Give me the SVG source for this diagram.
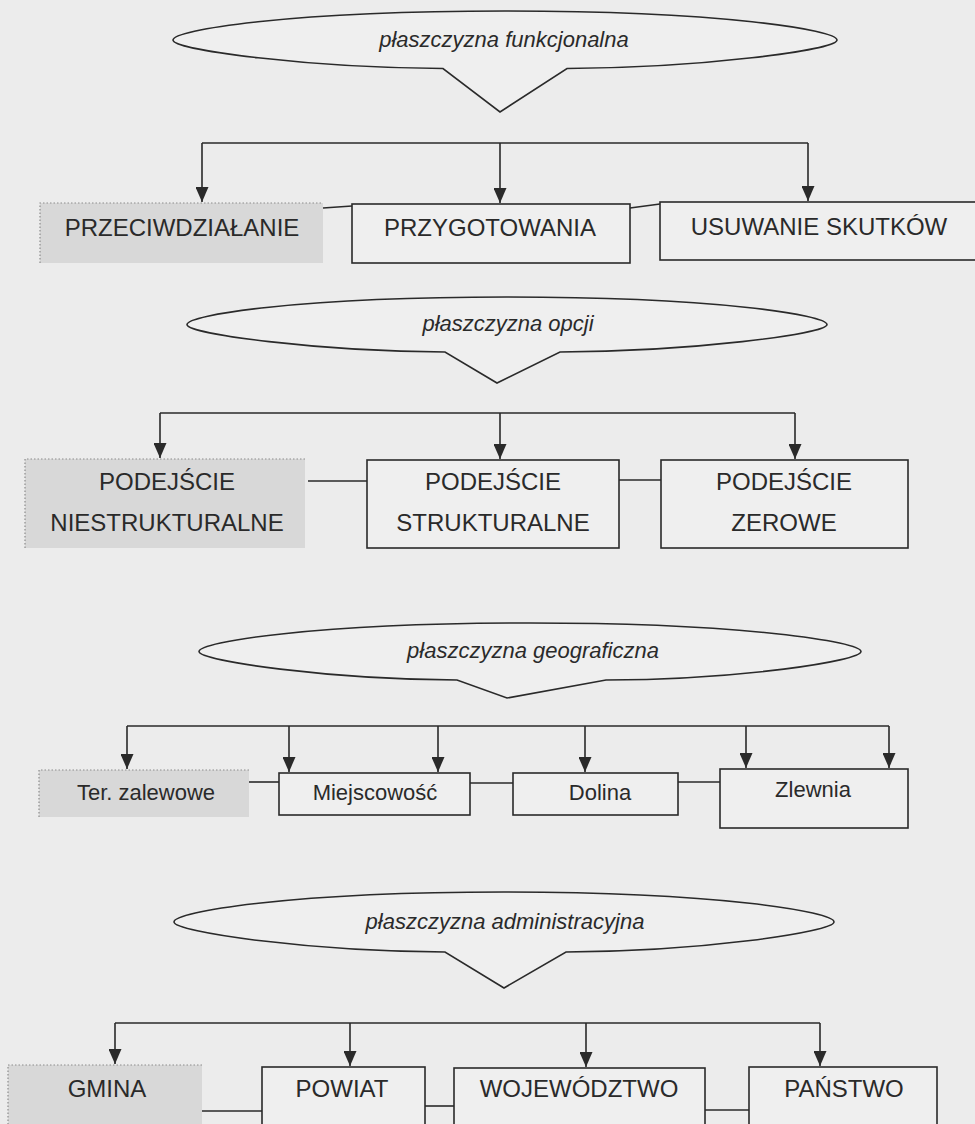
<svg xmlns="http://www.w3.org/2000/svg" width="975" height="1124" viewBox="0 0 975 1124">
<defs>
<marker id="ah" markerUnits="userSpaceOnUse" viewBox="0 0 15 13" markerWidth="15" markerHeight="13" refX="15" refY="6.5" orient="auto">
<path d="M0,0 L15,6.5 L0,13 z" fill="#2a2a2a"/>
</marker>
</defs>
<style>
.bg{fill:#ececec}
.callout{fill:#efefef;stroke:#2a2a2a;stroke-width:1.6;stroke-linejoin:miter}
.plane{font-family:"Liberation Sans",Arial,sans-serif;font-style:italic;font-size:22px;fill:#2a2a2a;text-anchor:middle}
.box{fill:#efefef;stroke:#2a2a2a;stroke-width:1.6}
.gfill{fill:#d8d8d8}
.gedge{fill:none;stroke:#8c8c8c;stroke-width:1.2;stroke-dasharray:1.5 2}
.lbl{font-family:"Liberation Sans",Arial,sans-serif;font-size:24px;fill:#2a2a2a;text-anchor:middle}
.lbl2{font-family:"Liberation Sans",Arial,sans-serif;font-size:22px;fill:#2a2a2a;text-anchor:middle}
.ln{stroke:#2a2a2a;stroke-width:1.6;fill:none}
.arr{stroke:#2a2a2a;stroke-width:1.6;fill:none;marker-end:url(#ah)}
</style>
<rect class="bg" x="0" y="0" width="975" height="1124"/>

<!-- Section 1 -->
<g id="plane-funkcjonalna">
<path class="callout" d="M173,40 C173,30 289,11 505,11 C721,11 837,30 837,40 C837,50 700,68 567,68.5 L500,112 L443,68.5 C310,68 173,50 173,40 Z"/>
<text class="plane" x="504" y="47">płaszczyzna funkcjonalna</text>
</g>
<g id="n-przeciwdzialanie">
<rect class="gfill" x="40" y="203" width="283" height="60"/>
<path class="gedge" d="M40,263 V203 H323"/>
<text class="lbl" x="182" y="236">PRZECIWDZIAŁANIE</text>
</g>
<g id="n-przygotowania">
<rect class="box" x="352" y="204" width="278" height="59"/>
<text class="lbl" x="490" y="236">PRZYGOTOWANIA</text>
</g>
<g id="n-usuwanie">
<rect class="box" x="660" y="202" width="330" height="58"/>
<text class="lbl" x="819" y="235">USUWANIE SKUTKÓW</text>
</g>

<!-- Section 2 -->
<g id="plane-opcji">
<path class="callout" d="M187,324.5 C187,315 299,297 507,297 C715,297 827,315 827,324.5 C827,334 690,351.5 560,352 L497,383 L445,352 C320,351.5 187,334 187,324.5 Z"/>
<text class="plane" x="508" y="331">płaszczyzna opcji</text>
</g>
<g id="n-niestrukturalne">
<rect class="gfill" x="25" y="459" width="280" height="89"/>
<path class="gedge" d="M25,548 V459 H305"/>
<text class="lbl" x="167" y="490">PODEJŚCIE</text>
<text class="lbl" x="167" y="531">NIESTRUKTURALNE</text>
</g>
<g id="n-strukturalne">
<rect class="box" x="367" y="460" width="252" height="88"/>
<text class="lbl" x="493" y="490">PODEJŚCIE</text>
<text class="lbl" x="493" y="531">STRUKTURALNE</text>
</g>
<g id="n-zerowe">
<rect class="box" x="661" y="460" width="247" height="88"/>
<text class="lbl" x="784" y="490">PODEJŚCIE</text>
<text class="lbl" x="784" y="531">ZEROWE</text>
</g>

<!-- Section 3 -->
<g id="plane-geograficzna">
<path class="callout" d="M199,651.5 C199,642 315,623 530,623 C745,623 861,642 861,651.5 C861,661 740,679.5 606,680 L507,698 L457,680 C330,679.5 199,661 199,651.5 Z"/>
<text class="plane" x="533" y="658">płaszczyzna geograficzna</text>
</g>
<g id="n-ter-zalewowe">
<rect class="gfill" x="39" y="770" width="210" height="47"/>
<path class="gedge" d="M39,817 V770 H249"/>
<text class="lbl2" x="146" y="800">Ter. zalewowe</text>
</g>
<g id="n-miejscowosc">
<rect class="box" x="279" y="773" width="191" height="42"/>
<text class="lbl2" x="375" y="800">Miejscowość</text>
</g>
<g id="n-dolina">
<rect class="box" x="513" y="773" width="165" height="42"/>
<text class="lbl2" x="600" y="800">Dolina</text>
</g>
<g id="n-zlewnia">
<rect class="box" x="720" y="769" width="188" height="59"/>
<text class="lbl2" x="813" y="797">Zlewnia</text>
</g>

<!-- Section 4 -->
<g id="plane-administracyjna">
<path class="callout" d="M174,922 C174,912 289,892 504,892 C719,892 834,912 834,922 C834,932 700,951.5 566,952 L504,988 L445,952 C310,951.5 174,932 174,922 Z"/>
<text class="plane" x="505" y="929">płaszczyzna administracyjna</text>
</g>
<g id="n-gmina">
<rect class="gfill" x="8" y="1065" width="194" height="70"/>
<path class="gedge" d="M8,1135 V1065 H202"/>
<text class="lbl" x="107" y="1097">GMINA</text>
</g>
<g id="n-powiat">
<rect class="box" x="262" y="1067" width="163" height="70"/>
<text class="lbl" x="342" y="1097">POWIAT</text>
</g>
<g id="n-wojewodztwo">
<rect class="box" x="454" y="1068" width="251" height="70"/>
<text class="lbl" x="579" y="1097">WOJEWÓDZTWO</text>
</g>
<g id="n-panstwo">
<rect class="box" x="749" y="1067" width="188" height="70"/>
<text class="lbl" x="844" y="1097">PAŃSTWO</text>
</g>

<g id="connectors">
<!-- S1 -->
<path class="ln" d="M202,143 H808"/>
<path class="arr" d="M202,143 V202"/>
<path class="arr" d="M500,143 V203"/>
<path class="arr" d="M808,143 V201"/>
<path class="ln" d="M323,208 L352,206"/>
<path class="ln" d="M630,208 L660,204"/>
<!-- S2 -->
<path class="ln" d="M160,413 H795"/>
<path class="arr" d="M160,413 V458"/>
<path class="arr" d="M500,413 V459"/>
<path class="arr" d="M795,413 V459"/>
<path class="ln" d="M308,481 H367"/>
<path class="ln" d="M619,480 H661"/>
<!-- S3 -->
<path class="ln" d="M127,726 H889"/>
<path class="arr" d="M127,726 V769"/>
<path class="arr" d="M289,726 V772"/>
<path class="arr" d="M438,726 V772"/>
<path class="arr" d="M585,726 V772"/>
<path class="arr" d="M746,726 V768"/>
<path class="arr" d="M889,726 V768"/>
<path class="ln" d="M249,782 H279"/>
<path class="ln" d="M470,783 H513"/>
<path class="ln" d="M678,782 H720"/>
<!-- S4 -->
<path class="ln" d="M115,1023 H820"/>
<path class="arr" d="M115,1023 V1064"/>
<path class="arr" d="M350,1023 V1066"/>
<path class="arr" d="M586,1023 V1067"/>
<path class="arr" d="M820,1023 V1066"/>
<path class="ln" d="M202,1111 H262"/>
<path class="ln" d="M425,1106 H454"/>
<path class="ln" d="M705,1110 H749"/>
</g>
</svg>
